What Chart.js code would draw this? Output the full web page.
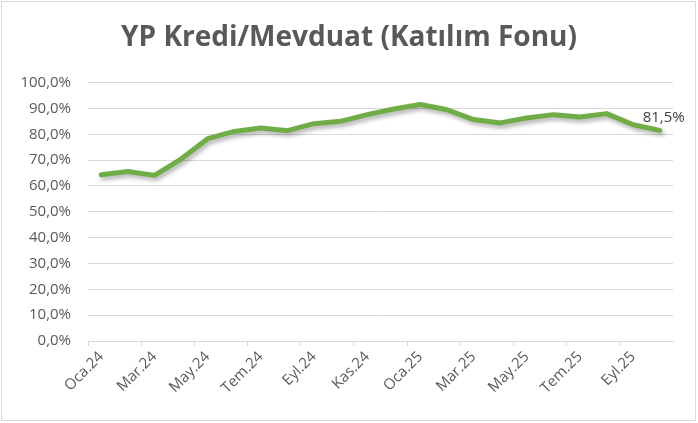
<!DOCTYPE html>
<html>
<head>
<meta charset="utf-8">
<script src="https://cdn.jsdelivr.net/npm/chart.js@4.4.0/dist/chart.umd.min.js"></script>
<style>
  html, body { margin: 0; padding: 0; background: #fff; }
  #wrap { width: 698px; height: 423px; }
</style>
</head>
<body>
<div id="wrap"><canvas id="krediChart" width="698" height="423"></canvas></div>
<script>
// month labels (Oca.24 .. Eki.25), every 2nd one shown on the axis
const months = ['Oca.24', 'Şub.24', 'Mar.24', 'Nis.24', 'May.24', 'Haz.24', 'Tem.24', 'Ağu.24',
  'Eyl.24', 'Eki.24', 'Kas.24', 'Ara.24', 'Oca.25', 'Şub.25', 'Mar.25', 'Nis.25', 'May.25',
  'Haz.25', 'Tem.25', 'Ağu.25', 'Eyl.25', 'Eki.25'];
const ratio = [64.3, 65.6, 64.1, 70.4, 78.3, 81.1, 82.4, 81.4, 84.1, 85.0, 87.6,
  89.8, 91.5, 89.5, 85.7, 84.4, 86.3, 87.6, 86.7, 88.0, 83.7, 81.5];
const yTicks = [0, 10, 20, 30, 40, 50, 60, 70, 80, 90, 100];

const fmt = v => v.toFixed(1).replace('.', ',') + '%';
const grey = '#595959';
const lineGrey = '#d9d9d9';

// outer frame of the chart
const framePlugin = {
  id: 'frame',
  afterDraw(chart) {
    const ctx = chart.ctx;
    ctx.save();
    ctx.strokeStyle = lineGrey;
    ctx.lineWidth = 1;
    ctx.strokeRect(1.5, 1.5, 694, 419);
    ctx.restore();
  }
};

// soft drop shadow under the line
const shadowPlugin = {
  id: 'lineShadow',
  beforeDatasetsDraw(chart) {
    const ctx = chart.ctx;
    ctx.save();
    ctx.shadowColor = 'rgba(0,0,0,0.3)';
    ctx.shadowBlur = 4;
    ctx.shadowOffsetX = 2;
    ctx.shadowOffsetY = 3;
  },
  afterDatasetsDraw(chart) {
    chart.ctx.restore();
  }
};

// value label on the last point only
const lastLabelPlugin = {
  id: 'lastLabel',
  afterDatasetsDraw(chart) {
    const meta = chart.getDatasetMeta(0);
    const pt = meta.data[meta.data.length - 1];
    const ctx = chart.ctx;
    ctx.save();
    ctx.font = '15px "Open Sans"';
    ctx.fillStyle = '#404040';
    ctx.textAlign = 'left';
    ctx.textBaseline = 'middle';
    ctx.fillText(fmt(ratio[ratio.length - 1]), pt.x - 17, pt.y - 13);
    ctx.restore();
  }
};

const ctx = document.getElementById('krediChart').getContext('2d');
new Chart(ctx, {
  type: 'line',
  data: {
    labels: months,
    datasets: [{
      label: 'YP Kredi/Mevduat',
      data: ratio,
      borderColor: '#70ad47',
      borderWidth: 5,
      borderJoinStyle: 'round',
      borderCapStyle: 'round',
      pointRadius: 0,
      tension: 0,
      fill: false,
    }],
  },
  options: {
    responsive: false,
    animation: false,
    layout: { padding: 0 },
    scales: {
      x: {
        offset: true,
        afterFit: s => { s.height = 82; },
        grid: {
          offset: true,
          drawOnChartArea: false,
          tickLength: 5,
          color: c => (c.index % 2 === 0 ? lineGrey : 'rgba(0,0,0,0)'),
        },
        border: { display: true, color: lineGrey, width: 1 },
        ticks: {
          autoSkip: false,
          maxRotation: 45,
          minRotation: 45,
          padding: 2,
          color: grey,
          font: { family: 'Open Sans', size: 15 },
          callback: function (v, i) { return i % 2 === 0 ? this.getLabelForValue(v) : ''; },
        },
      },
      y: {
        min: 0,
        max: 100,
        afterFit: s => { s.width = 88; },
        afterBuildTicks: s => { s.ticks = yTicks.map(v => ({ value: v })); },
        grid: { color: lineGrey, lineWidth: 1, drawTicks: false },
        border: { display: false },
        ticks: {
          padding: 17,
          color: grey,
          font: { family: 'Open Sans', size: 15 },
          callback: v => fmt(v),
        },
      },
      // empty right-hand strip so the plot ends where the reference does
      yRight: {
        position: 'right',
        afterFit: s => { s.width = 25; },
        grid: { display: false },
        border: { display: false },
        ticks: { display: false },
      },
    },
    plugins: {
      legend: { display: false },
      tooltip: { enabled: false },
      title: {
        display: true,
        text: 'YP Kredi/Mevduat (Katılım Fonu)',
        color: grey,
        font: { family: 'Open Sans', size: 28, weight: 'bold' },
        padding: { top: 21, bottom: 28 },
      },
    },
  },
  plugins: [framePlugin, shadowPlugin, lastLabelPlugin],
});
</script>
</body>
</html>
